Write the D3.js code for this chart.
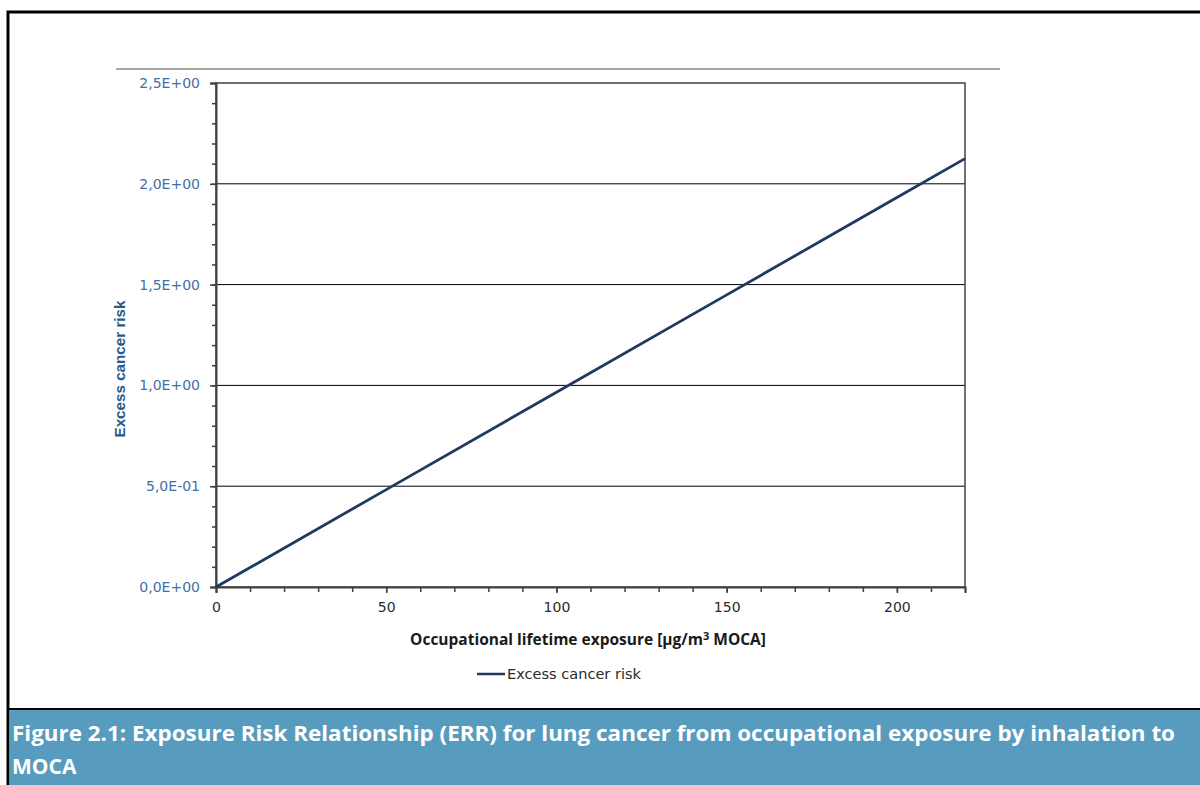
<!DOCTYPE html>
<html>
<head>
<meta charset="utf-8">
<script src="https://cdn.jsdelivr.net/npm/d3@7"></script>
<style>
body { margin: 0; background: #fff; }
svg { display: block; }
</style>
</head>
<body>
<svg id="chart"></svg>
<script>
// values
var exposure = [0, 50, 100, 150, 200, 220];
var risk = [0, 0.483, 0.966, 1.449, 1.932, 2.125];
var xTicks = [0, 50, 100, 150, 200];
var yTicks = [0, 0.5, 1.0, 1.5, 2.0, 2.5];
var yTickLabels = ["0,0E+00", "5,0E-01", "1,0E+00", "1,5E+00", "2,0E+00", "2,5E+00"];
var seriesName = "Excess cancer risk";
var captionLines = ["Figure 2.1: Exposure Risk Relationship (ERR) for lung cancer from occupational exposure by inhalation to", "MOCA"];

var W = 1200, H = 785;
var plot = {left: 216, right: 965, top: 83, bottom: 587};
var tickFont = "'DejaVu Sans', Verdana, sans-serif";

var svg = d3.select("#chart").attr("width", W).attr("height", H);

// outer frame
svg.append("rect").attr("x", 8).attr("y", 12).attr("width", W).attr("height", H)
    .attr("fill", "none").attr("stroke", "#000").attr("stroke-width", 3);

// grey rule above the chart
svg.append("line").attr("x1", 116).attr("x2", 1000).attr("y1", 69).attr("y2", 69)
    .attr("stroke", "#a6a6a6").attr("stroke-width", 2);

var x = d3.scaleLinear().domain([0, 220]).range([plot.left, plot.right]);
var y = d3.scaleLinear().domain([0, 2.5]).range([plot.bottom, plot.top]);

// gridlines
svg.append("g").selectAll("line").data(yTicks.slice(1, -1)).enter().append("line")
    .attr("x1", plot.left).attr("x2", plot.right)
    .attr("y1", function(d){ return y(d); }).attr("y2", function(d){ return y(d); })
    .attr("stroke", "#000").attr("stroke-width", 1);

// frame of plot area
svg.append("rect").attr("x", plot.left).attr("y", plot.top)
    .attr("width", plot.right - plot.left).attr("height", plot.bottom - plot.top)
    .attr("fill", "none").attr("stroke", "#404040").attr("stroke-width", 1.5);

// y axis
var yAxis = d3.axisLeft(y).tickValues(yTicks).tickSize(6).tickPadding(10)
    .tickFormat(function(d, i){ return yTickLabels[i]; });
var gy = svg.append("g").attr("transform", "translate(" + plot.left + ",0)").call(yAxis);
gy.select(".domain").attr("stroke", "#404040").attr("stroke-width", 2);
gy.selectAll(".tick line").attr("stroke", "#404040").attr("stroke-width", 1.5);
gy.selectAll(".tick text").attr("fill", "#3f6fa8").style("font-family", tickFont).style("font-size", "14px");

var yMinor = d3.axisLeft(y).tickValues(d3.range(0, 2.51, 0.1)).tickSize(4).tickFormat("");
var gym = svg.append("g").attr("transform", "translate(" + plot.left + ",0)").call(yMinor);
gym.select(".domain").remove();
gym.selectAll(".tick line").attr("stroke", "#404040").attr("stroke-width", 1.5);

// x axis
var xAxis = d3.axisBottom(x).tickValues(xTicks).tickSize(6).tickPadding(9);
var gx = svg.append("g").attr("transform", "translate(0," + plot.bottom + ")").call(xAxis);
gx.select(".domain").attr("stroke", "#404040").attr("stroke-width", 2);
gx.selectAll(".tick line").attr("stroke", "#404040").attr("stroke-width", 1.5);
gx.selectAll(".tick text").attr("fill", "#2b2b2b").style("font-family", tickFont).style("font-size", "14px");

var xMinor = d3.axisBottom(x).tickValues(d3.range(0, 221, 10)).tickSize(5).tickFormat("");
var gxm = svg.append("g").attr("transform", "translate(0," + plot.bottom + ")").call(xMinor);
gxm.select(".domain").remove();
gxm.selectAll(".tick line").attr("stroke", "#404040").attr("stroke-width", 1.5);

// series line
var data = exposure.map(function(d, i){ return {x: d, y: risk[i]}; });
svg.append("path").datum(data)
    .attr("d", d3.line().x(function(d){ return x(d.x); }).y(function(d){ return y(d.y); }))
    .attr("fill", "none").attr("stroke", "#1f3a5f").attr("stroke-width", 2.8);

// axis titles
var xt = svg.append("text").attr("x", 588).attr("y", 645).attr("text-anchor", "middle")
    .attr("fill", "#1a1a1a").style("font-family", "'Open Sans', sans-serif")
    .style("font-size", "15.5px").style("font-weight", "bold");
xt.append("tspan").text("Occupational  lifetime exposure [µg/m");
xt.append("tspan").attr("dy", -5).style("font-size", "11px").text("3");
xt.append("tspan").attr("dy", 5).text(" MOCA]");

svg.append("text").attr("transform", "translate(125,369) rotate(-90)").attr("text-anchor", "middle")
    .attr("fill", "#2a5a8c").style("font-family", "'Liberation Sans Narrow', 'Liberation Sans', sans-serif")
    .style("font-size", "14px").style("font-weight", "bold")
    .attr("textLength", 137).attr("lengthAdjust", "spacingAndGlyphs")
    .text("Excess  cancer risk");

// legend
svg.append("line").attr("x1", 477).attr("x2", 505).attr("y1", 674).attr("y2", 674)
    .attr("stroke", "#1f3a5f").attr("stroke-width", 2.5);
svg.append("text").attr("x", 507).attr("y", 679).attr("fill", "#2b2b2b")
    .style("font-family", tickFont).style("font-size", "13.5px")
    .attr("textLength", 134).attr("lengthAdjust", "spacingAndGlyphs")
    .text(seriesName);

// caption band
svg.append("line").attr("x1", 8).attr("x2", W).attr("y1", 709).attr("y2", 709)
    .attr("stroke", "#000").attr("stroke-width", 2);
svg.append("rect").attr("x", 10).attr("y", 710).attr("width", W - 10).attr("height", H - 710)
    .attr("fill", "#579bbe");
svg.selectAll(".cap").data(captionLines).enter().append("text")
    .attr("class", "cap")
    .attr("x", 12).attr("y", function(d, i){ return 741 + i * 33; })
    .attr("fill", "#fff").style("font-family", "'Open Sans', sans-serif")
    .style("font-size", "21px").style("font-weight", "bold")
    .attr("textLength", function(d, i){ return i === 0 ? 1163 : null; })
    .attr("lengthAdjust", "spacingAndGlyphs")
    .text(function(d){ return d; });
</script>
</body>
</html>
